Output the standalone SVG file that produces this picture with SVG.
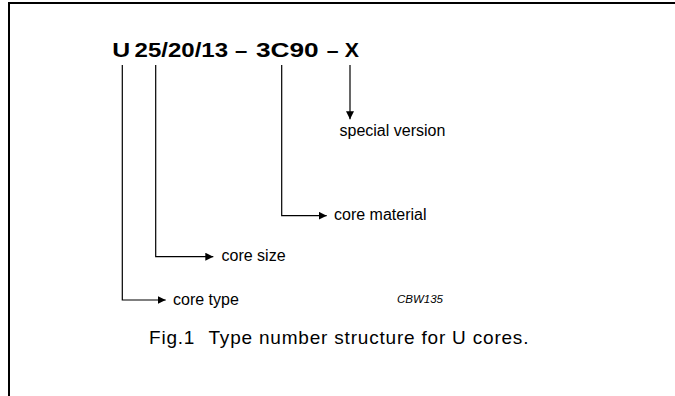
<svg xmlns="http://www.w3.org/2000/svg" width="675" height="396" viewBox="0 0 675 396">
<style>
text{font-family:"Liberation Sans",Arial,sans-serif;fill:#000}
.t{font-size:21px;font-weight:bold}
.l{font-size:16px}
.c{font-size:19px;letter-spacing:0.8px}
.r{font-size:11.5px;font-style:italic}
.ln{fill:none;stroke:#000;stroke-width:1.2}
</style>
<defs>
<marker id="ah" markerUnits="userSpaceOnUse" markerWidth="9" markerHeight="9" refX="8" refY="4" orient="auto">
<path d="M0,0 L8,4 L0,8 z" fill="#000"/>
</marker>
</defs>
<rect width="675" height="396" fill="#fff"/>
<g id="frame">
<path d="M9 396 V3 H675" fill="none" stroke="#000" stroke-width="2"/>
</g>
<g id="title">
<text class="t" x="112.2" y="57.3" textLength="17.9" lengthAdjust="spacingAndGlyphs">U</text>
<text class="t" x="134.6" y="57.3" textLength="93.5" lengthAdjust="spacingAndGlyphs">25/20/13</text>
<text class="t" x="235" y="57.3" textLength="12.3" lengthAdjust="spacingAndGlyphs">–</text>
<text class="t" x="255.9" y="57.3" textLength="62.7" lengthAdjust="spacingAndGlyphs">3C90</text>
<text class="t" x="326.7" y="57.3" textLength="11.8" lengthAdjust="spacingAndGlyphs">–</text>
<text class="t" x="344.8" y="57.3" textLength="14.2" lengthAdjust="spacingAndGlyphs">X</text>
</g>
<g id="connectors">
<path class="ln" d="M122.3 65 V300 H165.7" marker-end="url(#ah)"/>
<path class="ln" d="M155.7 65 V256.7 H213.3" marker-end="url(#ah)"/>
<path class="ln" d="M281.7 65 V215.7 H326.7" marker-end="url(#ah)"/>
<path class="ln" d="M350 65 V119.3" marker-end="url(#ah)"/>
</g>
<g id="special-version"><text class="l" x="339.5" y="136">special version</text></g>
<g id="core-material"><text class="l" x="334" y="220">core material</text></g>
<g id="core-size"><text class="l" x="221.5" y="261">core size</text></g>
<g id="core-type"><text class="l" x="173" y="305">core type</text></g>
<g id="code"><text class="r" x="397" y="303">CBW135</text></g>
<g id="caption">
<text class="c" x="149" y="344">Fig.1</text>
<text class="c" x="208.5" y="344">Type number structure for U cores.</text>
</g>
</svg>
